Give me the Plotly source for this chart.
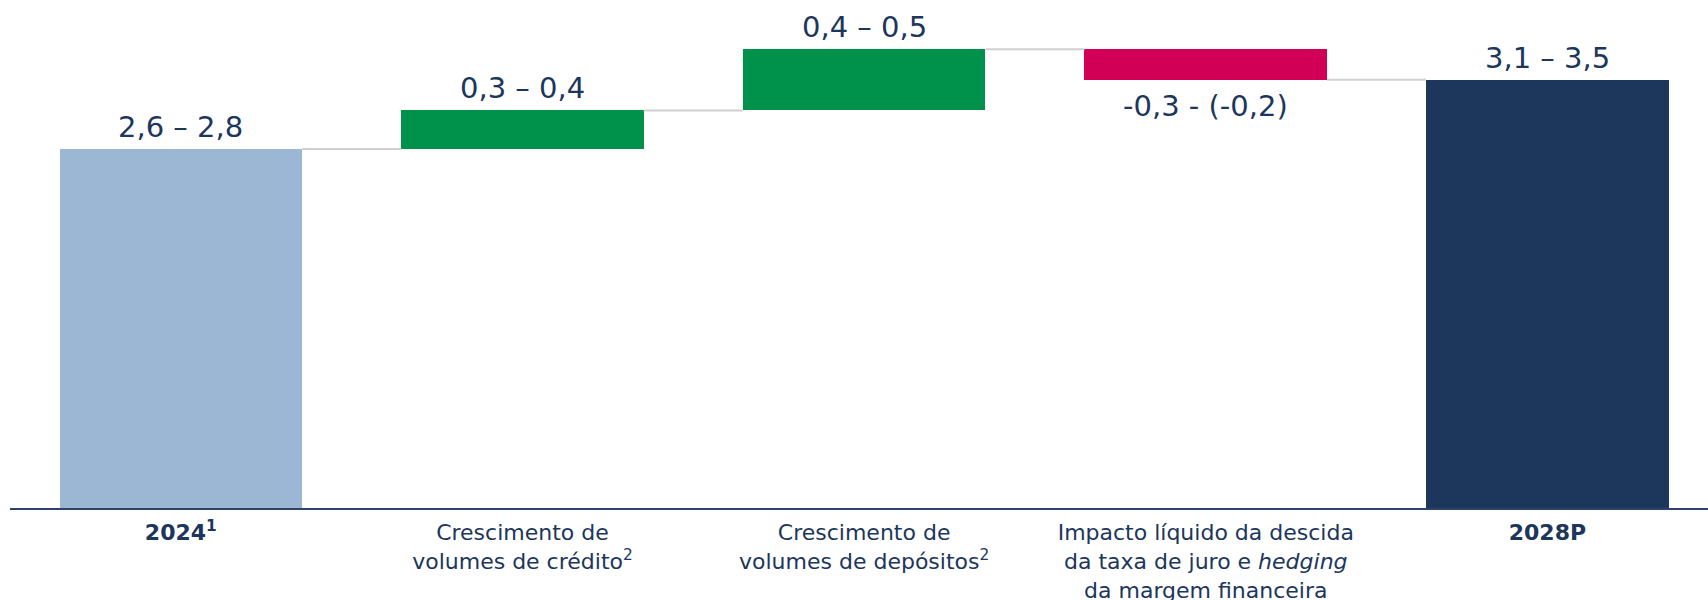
import plotly.graph_objects as go

# categories and values
categories = [
    "<b>2024<sup>1</sup></b>",
    "Crescimento de<br>volumes de crédito<sup>2</sup>",
    "Crescimento de<br>volumes de depósitos<sup>2</sup>",
    "Impacto líquido da descida<br>da taxa de juro e <i>hedging</i><br>da margem financeira",
    "<b>2028P</b>",
]
values = [2.7, 0.29, 0.46, -0.23, 3.22]
measures = ["absolute", "relative", "relative", "relative", "total"]
value_labels = ["2,6 – 2,8", "0,3 – 0,4", "0,4 – 0,5", "-0,3 - (-0,2)", "3,1 – 3,5"]
bar_colors = ["#9bb7d3", "#00924a", "#d10056", "#1c365c"]

NAVY = "#1c365c"
FONT = "DejaVu Sans"
BAR_W = 0.71

# bases for the floating bars
bases, level = [], 0.0
for v, m in zip(values, measures):
    if m == "relative":
        bases.append(level)
        level += v
    else:
        bases.append(0.0)
        level = v
colors = []
for v, m in zip(values, measures):
    if m == "absolute":
        colors.append(bar_colors[0])
    elif m == "total":
        colors.append(bar_colors[3])
    else:
        colors.append(bar_colors[1] if v >= 0 else bar_colors[2])

x = list(range(len(values)))

# connector segments between bars
cx, cy = [], []
for i in range(len(values) - 1):
    lvl = bases[i] + values[i]
    cx += [i + BAR_W / 2, i + 1 - BAR_W / 2, None]
    cy += [lvl, lvl, None]

fig = go.Figure()
fig.add_trace(go.Scatter(
    x=cx, y=cy, mode="lines",
    line=dict(color="#d0d0d0", width=2),
    hoverinfo="skip", showlegend=False,
))
fig.add_trace(go.Bar(
    x=x, y=values, base=bases, width=BAR_W,
    marker=dict(color=colors, line=dict(width=0)),
    showlegend=False,
))

for i, (v, b, t) in enumerate(zip(values, bases, value_labels)):
    end = b + v
    fig.add_annotation(
        x=i, y=end, text=t, showarrow=False,
        yanchor="bottom" if v >= 0 else "top",
        yshift=3 if v >= 0 else -7,
        font=dict(family=FONT, size=29, color=NAVY),
    )

fig.update_layout(
    width=1708, height=600,
    paper_bgcolor="white", plot_bgcolor="white",
    margin=dict(l=10, r=0, t=0, b=92),
    bargap=0,
    xaxis=dict(
        range=[-0.5, 4.47], automargin=False,
        tickmode="array", tickvals=x, ticktext=categories,
        showgrid=False, zeroline=False,
        showline=True, linecolor="#2b4468", linewidth=2,
        ticks="", ticklabelstandoff=4,
        tickfont=dict(family=FONT, size=22, color=NAVY),
    ),
    yaxis=dict(range=[0, 3.82], visible=False),
)

fig.write_html("out.html", config={"displayModeBar": False},
               post_script="document.body.style.margin='0';")
